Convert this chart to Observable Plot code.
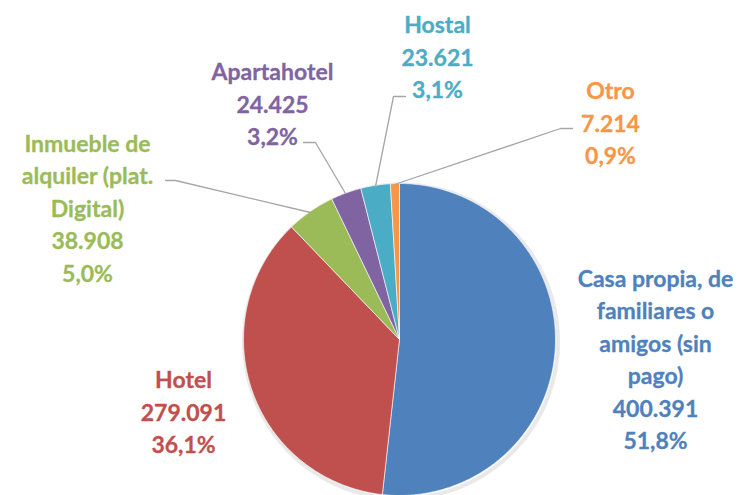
<!DOCTYPE html>
<html><head><meta charset="utf-8">
<script src="https://cdn.jsdelivr.net/npm/d3@7"></script>
<script src="https://cdn.jsdelivr.net/npm/@observablehq/plot@0.6"></script>
<style>html,body{margin:0;padding:0;background:#fff}</style>
</head><body><div id="chart"></div>
<script>
// Data
const categories = ["Casa propia, de familiares o amigos (sin pago)", "Hotel", "Inmueble de alquiler (plat. Digital)", "Apartahotel", "Hostal", "Otro"];
const values = [400391, 279091, 38908, 24425, 23621, 7214];
const percents = ["51,8%", "36,1%", "5,0%", "3,2%", "3,1%", "0,9%"];
const valueLabels = ["400.391", "279.091", "38.908", "24.425", "23.621", "7.214"];
const labelNames = ["Casa propia, de\nfamiliares o\namigos (sin\npago)", "Hotel", "Inmueble de\nalquiler (plat.\nDigital)", "Apartahotel", "Hostal", "Otro"];
const colors = ["#4f81bd", "#c0504d", "#9bbb59", "#8064a2", "#4bacc6", "#f79646"];

// Layout (pixels)
const W = 744, H = 495;
const cx = 399, cy = 339, R = 156;
const labelPos = [[655, 357], [183, 410], [87, 206], [272, 102], [437, 55], [610, 121]];
const leaders = [
  null, null,
  [[165, 180], [175, 180], [310, 212]],
  [[303, 142], [315, 142], [345, 193]],
  [[405, 96], [393, 96], [375, 186]],
  [[572, 128], [560, 128], [394, 184]]
];

const arcs = d3.pie().sort(null).value(d => d)(values);
const slicePts = [];
arcs.forEach((a, i) => {
  const n = Math.max(4, Math.ceil((a.endAngle - a.startAngle) / 0.01));
  slicePts.push({cat: categories[i], x: cx, y: cy});
  for (let k = 0; k <= n; k++) {
    const t = a.startAngle + (a.endAngle - a.startAngle) * k / n;
    slicePts.push({cat: categories[i], x: cx + R * Math.sin(t), y: cy - R * Math.cos(t)});
  }
  slicePts.push({cat: categories[i], x: cx, y: cy});
});
const shadowPts = d3.range(0, 361, 2).map(d => ({x: cx + 1.5 + (R + 1) * Math.sin(d * Math.PI / 180), y: cy + 2 + (R + 1) * Math.cos(d * Math.PI / 180)}));

const labels = categories.map((c, i) => ({
  cat: c,
  text: labelNames[i] + "\n" + valueLabels[i] + "\n" + percents[i],
  x: labelPos[i][0], y: labelPos[i][1]
}));
const leaderPts = [];
leaders.forEach((l, i) => { if (l) l.forEach(p => leaderPts.push({cat: categories[i], x: p[0], y: p[1]})); });

const chart = Plot.plot({
  width: W, height: H,
  margin: 0,
  x: {domain: [0, W], range: [0, W], axis: null},
  y: {domain: [0, H], range: [0, H], axis: null},
  color: {domain: categories, range: colors},
  style: {fontFamily: "Lato, sans-serif"},
  marks: [
    Plot.line(shadowPts, {x: "x", y: "y", stroke: "#e4e4e4", strokeWidth: 4, strokeOpacity: 0.8}),
    Plot.line(slicePts, {x: "x", y: "y", z: "cat", fill: "cat", stroke: "#ffffff", strokeWidth: 0.6, curve: "linear"}),
    Plot.line(leaderPts, {x: "x", y: "y", z: "cat", stroke: "#a6a6a6", strokeWidth: 1.3}),
    Plot.text(labels, {x: "x", y: "y", text: "text", fill: "cat", fontSize: 23, fontWeight: 700, lineHeight: 1.41, lineAnchor: "middle", textAnchor: "middle", stroke: "cat", strokeWidth: 0.3})
  ]
});
document.getElementById("chart").appendChild(chart);
</script></body></html>
